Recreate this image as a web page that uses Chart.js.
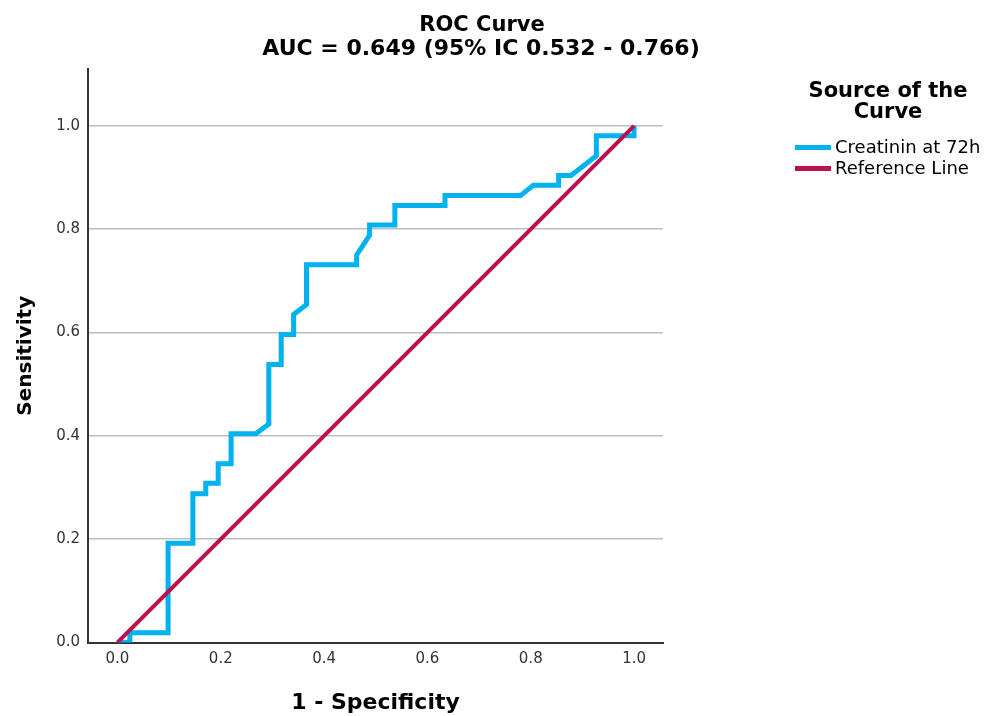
<!DOCTYPE html>
<html>
<head>
<meta charset="utf-8">
<script src="https://cdn.jsdelivr.net/npm/chart.js@4"></script>
<style>
  html, body { margin: 0; padding: 0; background: #ffffff; }
  #wrap { width: 985px; height: 716px; position: relative; }
</style>
</head>
<body>
<div id="wrap"><canvas id="c" width="985" height="716"></canvas></div>
<script>
// ---- data ----
const chartTitleLines = ["ROC Curve", "AUC = 0.649 (95% IC 0.532 - 0.766)"];
const legendTitleLines = ["Source of the", "Curve"];
const xAxisTitle = "1 - Specificity";
const yAxisTitle = "Sensitivity";
const seriesNames = ["Creatinin at 72h", "Reference Line"];

// ROC curve points (1 - specificity, sensitivity)
const rocX = [0, 0.024, 0.024, 0.098, 0.098, 0.146, 0.146, 0.171, 0.171, 0.195, 0.195, 0.220, 0.220, 0.268, 0.293, 0.293, 0.317, 0.317, 0.341, 0.341, 0.366, 0.366, 0.463, 0.463, 0.488, 0.488, 0.537, 0.537, 0.634, 0.634, 0.780, 0.805, 0.854, 0.854, 0.878, 0.927, 0.927, 1.0, 1.0];
const rocY = [0, 0, 0.019, 0.019, 0.192, 0.192, 0.288, 0.288, 0.308, 0.308, 0.346, 0.346, 0.404, 0.404, 0.423, 0.538, 0.538, 0.596, 0.596, 0.635, 0.654, 0.731, 0.731, 0.750, 0.788, 0.808, 0.808, 0.846, 0.846, 0.865, 0.865, 0.885, 0.885, 0.904, 0.904, 0.942, 0.981, 0.981, 1.0];

// reference (chance) line
const refX = [0, 1];
const refY = [0, 1];

// tick labels
const xTickValues = [0, 0.2, 0.4, 0.6, 0.8, 1.0];
const yTickValues = [0, 0.2, 0.4, 0.6, 0.8, 1.0];

const colors = ["#00b2f0", "#b8124f"];
const FONT = "'DejaVu Sans', sans-serif";

const toPoints = (xs, ys) => xs.map((x, i) => ({ x: x, y: ys[i] }));

const titlePlugin = {
  id: 'customTexts',
  afterDraw(chart) {
    const ctx = chart.ctx;
    ctx.save();
    ctx.fillStyle = '#000';
    ctx.textAlign = 'center';
    ctx.textBaseline = 'middle';
    ctx.font = "bold 21px " + FONT;
    ctx.fillText(chartTitleLines[0], 482, 26);
    ctx.font = "bold 22px " + FONT;
    ctx.fillText(chartTitleLines[1], 481, 49);
    // legend
    ctx.font = "bold 21px " + FONT;
    ctx.fillText(legendTitleLines[0], 888, 92);
    ctx.fillText(legendTitleLines[1], 888, 112.5);
    ctx.textAlign = 'left';
    ctx.font = "18px " + FONT;
    const ys = [147.5, 168.5];
    chart.data.datasets.forEach((ds, i) => {
      ctx.strokeStyle = ds.borderColor;
      ctx.lineWidth = 5;
      ctx.lineCap = 'butt';
      ctx.beginPath();
      ctx.moveTo(795, ys[i]);
      ctx.lineTo(831, ys[i]);
      ctx.stroke();
      ctx.fillStyle = '#000';
      ctx.fillText(ds.label, 835, ys[i] + 1);
    });
    ctx.restore();
  }
};

new Chart(document.getElementById('c'), {
  type: 'line',
  data: {
    datasets: [
      {
        label: seriesNames[0],
        data: toPoints(rocX, rocY),
        borderColor: colors[0],
        borderWidth: 5,
        pointRadius: 0,
        tension: 0,
        fill: false,
        borderJoinStyle: 'miter',
        order: 1
      },
      {
        label: seriesNames[1],
        data: toPoints(refX, refY),
        borderColor: colors[1],
        borderWidth: 4,
        pointRadius: 0,
        tension: 0,
        fill: false,
        order: 0
      }
    ]
  },
  options: {
    responsive: false,
    animation: false,
    devicePixelRatio: 1,
    layout: { padding: { left: 0, top: 69, right: 322, bottom: 0 } },
    plugins: {
      legend: { display: false },
      title: { display: false },
      tooltip: { enabled: false }
    },
    scales: {
      x: {
        type: 'linear',
        position: 'bottom',
        min: -0.057,
        max: 1.056,
        afterBuildTicks(scale) { scale.ticks = xTickValues.map(v => ({ value: v })); },
        afterFit(scale) { scale.height = 73.5; },
        ticks: {
          padding: 8,
          color: '#333',
          font: { family: FONT, size: 15 },
          callback: v => Number(v).toFixed(1),
          maxRotation: 0
        },
        grid: { drawOnChartArea: false, drawTicks: false },
        border: { display: true, color: '#333', width: 2 },
        title: {
          display: true,
          text: xAxisTitle,
          color: '#000',
          font: { family: FONT, size: 22, weight: 'bold' },
          padding: { top: 0, bottom: 0 }
        }
      },
      y: {
        type: 'linear',
        position: 'left',
        min: 0,
        max: 1.11,
        afterBuildTicks(scale) { scale.ticks = yTickValues.map(v => ({ value: v })); },
        afterFit(scale) { scale.width = 88; },
        ticks: {
          padding: 8,
          color: '#333',
          font: { family: FONT, size: 15 },
          callback: v => Number(v).toFixed(1)
        },
        grid: { color: '#bdbdbd', lineWidth: 1.5, drawTicks: false },
        border: { display: true, color: '#333', width: 2 },
        title: {
          display: true,
          text: yAxisTitle,
          color: '#000',
          font: { family: FONT, size: 20, weight: 'bold' },
          padding: { top: 14, bottom: 0 }
        }
      }
    }
  },
  plugins: [titlePlugin]
});
</script>
</body>
</html>
